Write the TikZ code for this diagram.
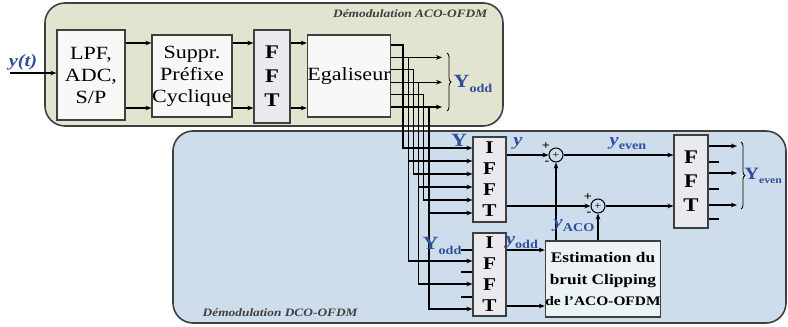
\documentclass[tikz,border=0pt]{standalone}
\usepackage{fontspec}
\setmainfont{Liberation Serif}[FakeStretch=1.18]
\usepackage{tikz}
\usetikzlibrary{arrows.meta,decorations.pathreplacing}
\definecolor{acozone}{HTML}{E2E4D0}
\definecolor{dcozone}{HTML}{CEDDEC}
\definecolor{edge}{HTML}{3F3F3F}
\definecolor{lbl}{HTML}{2F4E9C}
\definecolor{blkfill}{HTML}{F8F8F6}
\definecolor{fftfill}{HTML}{EAEAEE}
\definecolor{estfill}{HTML}{EBF3F4}
\newcommand\lowsub[1]{\raisebox{-0.5ex}{\fontsize{9}{9}\selectfont\upshape\bfseries #1}}

\begin{document}
\begin{tikzpicture}[x=0.75pt,y=-0.75pt,
  blk/.style={draw=edge,line width=0.9pt,fill=blkfill,align=center,inner sep=0pt,font=\fontsize{14}{16.5}\selectfont},
  fftblk/.style={blk,fill=fftfill,font=\fontsize{14.5}{18}\selectfont\bfseries},
  ifftblk/.style={blk,fill=fftfill,font=\fontsize{13.5}{15.8}\selectfont\bfseries},
  sig/.style={line width=0.8pt,-{Stealth[length=4.5pt,width=3.5pt]}},
  wire/.style={line width=0.8pt},
  sumnode/.style={circle,draw=black,line width=0.8pt,fill=dcozone,inner sep=0pt,minimum size=10.5pt,font=\fontsize{8}{8}\selectfont},
  zone/.style={draw=edge,line width=1.2pt,rounded corners=15pt},
  zonetitle/.style={font=\fontsize{8.5}{10}\selectfont\bfseries\itshape,text=edge},
  lab/.style={text=lbl,font=\fontsize{14}{15}\selectfont\bfseries,inner sep=1pt},
  slab/.style={text=lbl,font=\fontsize{13}{14}\selectfont\bfseries\itshape,inner sep=1pt},
  sgn/.style={font=\fontsize{9}{9}\selectfont\bfseries,inner sep=0pt},
  brc/.style={decorate,decoration={brace,amplitude=3pt},line width=0.6pt}]
\useasboundingbox (0,0) rectangle (788,327);

% the two demodulators
\draw[zone,fill=acozone] (45,3) rectangle (503,126);
\draw[zone,fill=dcozone] (173,131) rectangle (786,323);
\node[zonetitle,anchor=east] (acot) at (492,14) {Démodulation ACO-OFDM};
\node[zonetitle,anchor=west] (dcot) at (198,313) {Démodulation DCO-OFDM};

% blocks
\node[blk,minimum width=51pt,minimum height=67.5pt] (lpf) at (91,75) {LPF,\\ADC,\\S/P};
\node[blk,minimum width=60pt,minimum height=61.5pt] (supp) at (192,76) {Suppr.\\Préfixe\\Cyclique};
\node[fftblk,minimum width=27pt,minimum height=69.75pt] (fft) at (272,76.5) {F\\F\\T};
\node[blk,minimum width=61.5pt,minimum height=61.5pt] (egal) at (349,76) {Egaliseur};
\node[ifftblk,minimum width=24.75pt,minimum height=63.75pt] (ifftA) at (489.5,179.5) {I\\F\\F\\T};
\node[ifftblk,minimum width=24.75pt,minimum height=62.25pt] (ifftB) at (489.5,274.5) {I\\F\\F\\T};
\node[blk,fill=estfill,minimum width=82.5pt,minimum height=57pt,font=\fontsize{11}{15.8}\selectfont\bfseries] (est) at (603,279) {Estimation du\\bruit Clipping\\{\fontsize{9.8}{12}\selectfont de l'ACO-OFDM}};
\node[fftblk,minimum width=25.5pt,minimum height=69.75pt] (fftB) at (691,181.5) {F\\F\\T};
\node[sumnode] (sumA) at (556,155) {+};
\node[sumnode] (sumB) at (598,206) {+};

% ACO-OFDM chain
\coordinate (yin) at (10,73);
\draw[sig] (yin) -- (lpf.west|-yin);
\node[slab] (ylab) at (23,62) {y(t)};
\foreach \yy in {43,108}{
  \draw[sig] (lpf.east|-0,\yy) -- (supp.west|-0,\yy);
  \draw[sig] (supp.east|-0,\yy) -- (fft.west|-0,\yy);
  \draw[sig] (fft.east|-0,\yy) -- (egal.west|-0,\yy);
}

% equaliser outputs to both IFFTs
\foreach \k in {1,...,6}{
  \pgfmathsetmacro{\yo}{45+12.4*(\k-1)}
  \pgfmathsetmacro{\xv}{403+5.2*(\k-1)}
  \pgfmathsetmacro{\yi}{148+13*(\k-1)}
  \draw[sig] (egal.east|-0,\yo) -| (\xv,\yi) -- (ifftA.west|-0,\yi);
}
\foreach \k/\yb in {2/261,4/284,6/309}{
  \pgfmathsetmacro{\yo}{45+12.4*(\k-1)}
  \pgfmathsetmacro{\xv}{403+5.2*(\k-1)}
  \pgfmathsetmacro{\yi}{148+13*(\k-1)}
  \coordinate (odd\k) at (442,\yo);
  \draw[sig] (egal.east|-0,\yo) -- (odd\k);
  \draw[sig] (\xv,\yi) |- (ifftB.west|-0,\yb);
}
\draw[brc] (447,53) -- (447,111);
\node[lab,anchor=west] (yoddA) at (452,84) {Y\lowsub{odd}};
\node[lab] (yall) at (459,140) {Y};
\foreach \yy in {250,272,297}
  \draw[wire] (ifftB.west|-0,\yy) -- ++(-11,0);
\node[lab,anchor=east] (yoddB) at (463,246) {Y\lowsub{odd}};

% DCO-OFDM part
\draw[sig] (ifftA.east|-sumA) -- (sumA.west);
\node[slab] (ysmall) at (518,143) {y};
\draw[sig] (sumA.east) -- (fftB.west|-sumA);
\node[slab] (yeven) at (628,144) {y\lowsub{even}};
\draw[sig] (ifftA.east|-sumB) -- (sumB.west);
\draw[sig] (sumB.east) -- (fftB.west|-sumB);
\draw[sig] (est.north-|sumA) -- (sumA.south);
\draw[sig] (est.north-|sumB) -- (sumB.south);
\node[sgn] (pA) at (546,146) {+};
\node[sgn] (mA) at (547,163) {-};
\node[sgn] (pB) at (588,197) {+};
\node[sgn] (mB) at (589,214) {-};
\node[slab] (yaco) at (574,226) {y\lowsub{ACO}};
\draw[sig] (ifftB.east|-0,250) -- (est.west|-0,250);
\node[slab] (yoddC) at (522,243) {y\lowsub{odd}};
\draw[sig] (ifftB.east|-0,306) -- (est.west|-0,306);

% FFT outputs
\foreach \yy in {146,173,205}
  \draw[sig] (fftB.east|-0,\yy) -- (737,\yy);
\foreach \yy in {162,189,219}
  \draw[wire] (fftB.east|-0,\yy) -- ++(10,0);
\draw[brc] (741,142) -- (741,209);
\node[lab,anchor=west,inner sep=0pt,font=\fontsize{13}{14}\selectfont\bfseries] (yevenB) at (744,176) {Y\raisebox{-0.5ex}{\fontsize{7.5}{8}\selectfont\bfseries even}};
\end{tikzpicture}
\end{document}
